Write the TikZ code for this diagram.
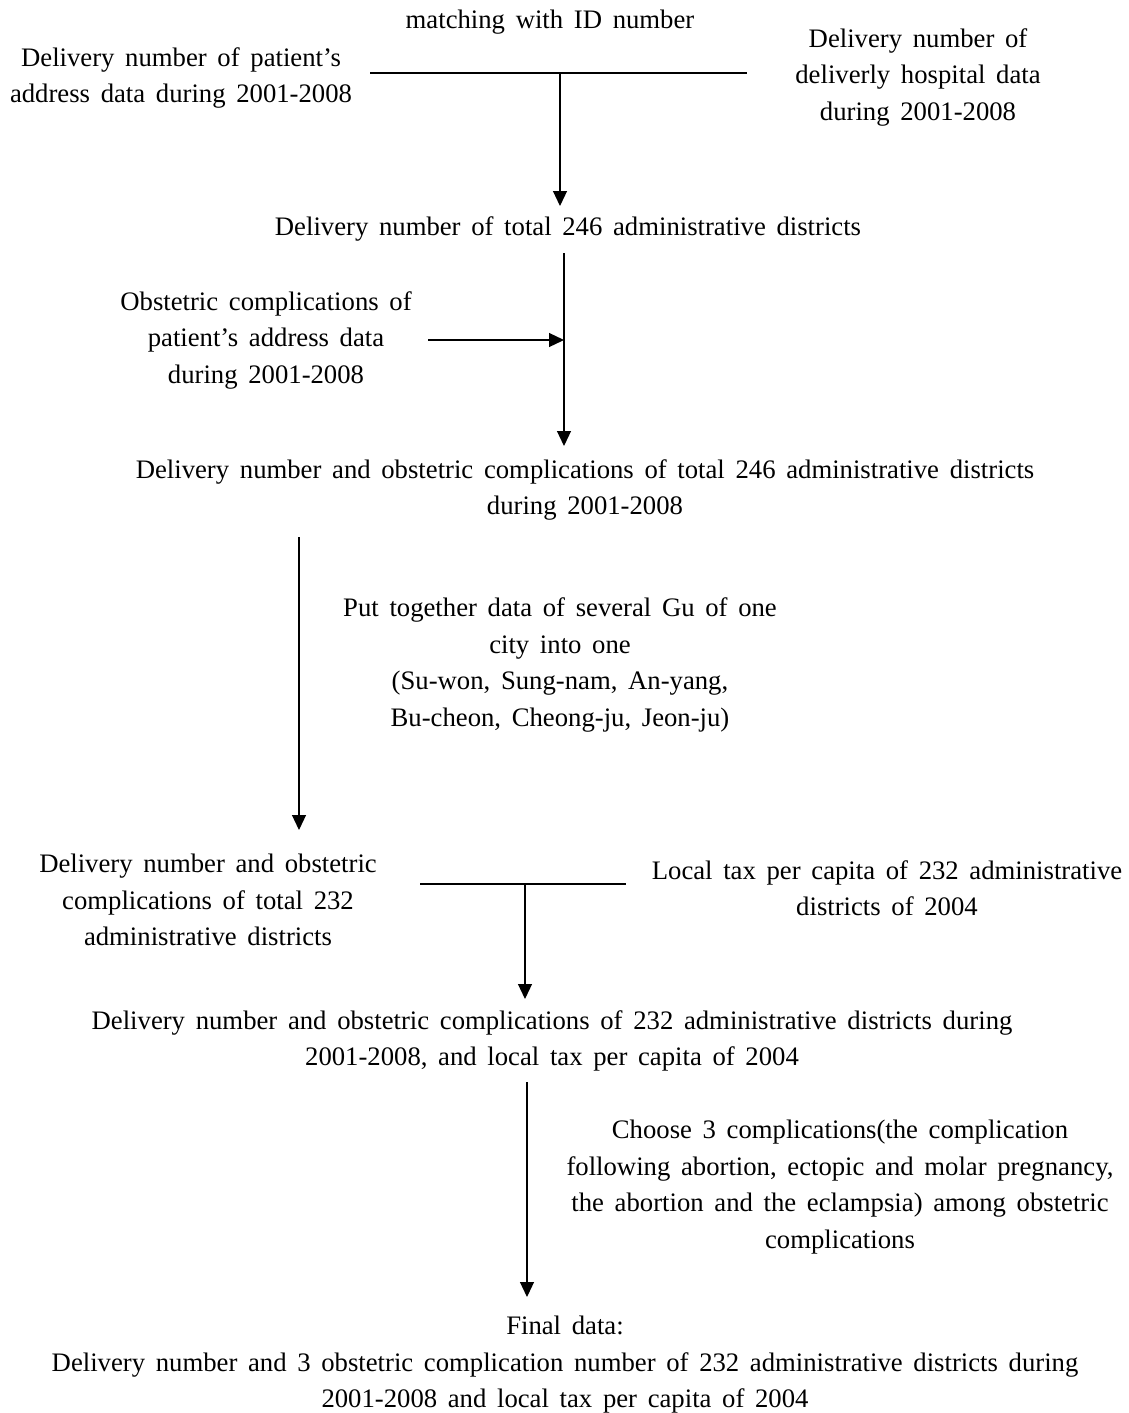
\documentclass[tikz,border=0pt]{standalone}
\usepackage{fontspec}
\setmainfont{Liberation Serif}[WordSpace={1.6,1,1}]
\usetikzlibrary{arrows.meta}
\begin{document}
\begin{tikzpicture}[x=1pt,y=-1pt,
  txt/.style={align=center,inner sep=0pt,font=\fontsize{26.7}{36.5}\selectfont},
  ln/.style={line width=1.2pt},
  arr/.style={line width=1.2pt,-{Triangle[width=14pt,length=15pt]}}]
\useasboundingbox (0,0) rectangle (1129,1413);
\node[txt] (match) at (550,22) {matching with ID number};
\node[txt] (pat) at (181,78) {Delivery number of patient's\\address data during 2001-2008};
\node[txt] (hos) at (918,77) {Delivery number of\\deliverly hospital data\\during 2001-2008};
\coordinate (hl) at (370,73);
\coordinate (hr) at (747,73);
\draw[ln] (hl) -- (hr);
\coordinate (a1s) at (560,74);
\node[txt] (tot246) at (568,229) {Delivery number of total 246 administrative districts};
\coordinate (a1e) at (560,206);
\draw[arr] (a1s) -- (a1e);
\node[txt] (obs) at (266,340) {Obstetric complications of\\patient's address data\\during 2001-2008};
\coordinate (a2s) at (564,253);
\coordinate (a2m) at (564,340);
\coordinate (a2e) at (564,446);
\draw[arr] (a2s) -- (a2e);
\coordinate (a3s) at (428,340);
\draw[arr] (a3s) -- (a2m);
\node[txt] (comb246) at (585,490) {Delivery number and obstetric complications of total 246 administrative districts\\during 2001-2008};
\coordinate (a4s) at (299,537);
\coordinate (a4e) at (299,830);
\draw[arr] (a4s) -- (a4e);
\node[txt] (put) at (560,665) {Put together data of several Gu of one\\city into one\\(Su-won, Sung-nam, An-yang,\\Bu-cheon, Cheong-ju, Jeon-ju)};
\node[txt] (d232) at (208,900) {Delivery number and obstetric\\complications of total 232\\administrative districts};
\node[txt] (tax) at (887,888) {Local tax per capita of 232 administrative\\districts of 2004};
\coordinate (h2l) at (420,884);
\coordinate (h2r) at (626,884);
\coordinate (h2m) at (525,884);
\draw[ln] (h2l) -- (h2r);
\coordinate (a5e) at (525,999);
\draw[arr] (h2m) -- (a5e);
\node[txt] (dt) at (552,1041) {Delivery number and obstetric complications of 232 administrative districts during\\2001-2008, and local tax per capita of 2004};
\coordinate (a6s) at (527,1082);
\coordinate (a6e) at (527,1297);
\draw[arr] (a6s) -- (a6e);
\node[txt] (choose) at (840,1187) {Choose 3 complications(the complication\\following abortion, ectopic and molar pregnancy,\\the abortion and the eclampsia) among obstetric\\complications};
\node[txt] (final) at (565,1365) {Final data:\\Delivery number and 3 obstetric complication number of 232 administrative districts during\\2001-2008 and local tax per capita of 2004};
\end{tikzpicture}
\end{document}
